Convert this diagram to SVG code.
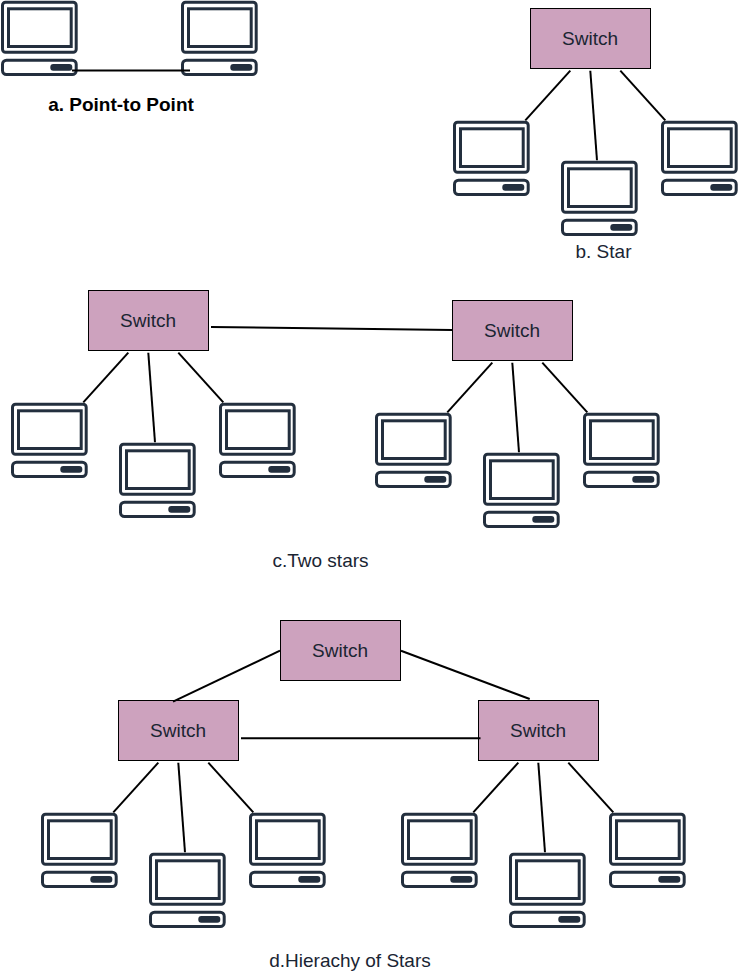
<svg xmlns="http://www.w3.org/2000/svg" width="739" height="976" viewBox="0 0 739 976">
<style>
text{font-family:"Liberation Sans",Arial,sans-serif;font-size:19px;fill:#1a2533;text-anchor:middle}
.sw{fill:#cda2be;stroke:#000;stroke-width:1}
.pc{fill:none;stroke:#232f3e;stroke-width:3}
.slot{fill:#232f3e}
.cn line{stroke:#000;stroke-width:2}
</style>
<defs>
<g id="computer">
<rect class="pc" x="1.5" y="2.2" width="73.7" height="50" rx="3"/>
<rect class="pc" x="7.5" y="8.8" width="62.700" height="37.700"/>
<rect class="pc" x="1.5" y="60.200" width="73.700" height="14.300" rx="4"/>
<rect class="slot" x="49.300" y="64" width="22" height="6.700" rx="3"/>
</g>
</defs>
<rect width="739" height="976" fill="#fff"/>
<g id="pc-a1"><use href="#computer" x="1" y="0"/></g>
<g id="pc-a2"><use href="#computer" x="181" y="0"/></g>
<g id="pc-b1"><use href="#computer" x="453" y="120"/></g>
<g id="pc-b2"><use href="#computer" x="561" y="160"/></g>
<g id="pc-b3"><use href="#computer" x="661" y="120"/></g>
<g id="pc-c1"><use href="#computer" x="11" y="402"/></g>
<g id="pc-c2"><use href="#computer" x="119" y="442"/></g>
<g id="pc-c3"><use href="#computer" x="219" y="402"/></g>
<g id="pc-c4"><use href="#computer" x="375" y="412"/></g>
<g id="pc-c5"><use href="#computer" x="483" y="452"/></g>
<g id="pc-c6"><use href="#computer" x="583" y="412"/></g>
<g id="pc-d1"><use href="#computer" x="41" y="812"/></g>
<g id="pc-d2"><use href="#computer" x="149" y="852"/></g>
<g id="pc-d3"><use href="#computer" x="249" y="812"/></g>
<g id="pc-d4"><use href="#computer" x="401" y="812"/></g>
<g id="pc-d5"><use href="#computer" x="509" y="852"/></g>
<g id="pc-d6"><use href="#computer" x="609" y="812"/></g>
<g id="sw-b"><rect class="sw" x="530.5" y="8.5" width="120" height="60"/><text x="590" y="45">Switch</text></g>
<g id="sw-c1"><rect class="sw" x="88.500" y="290.500" width="120" height="60"/><text x="148" y="327">Switch</text></g>
<g id="sw-c2"><rect class="sw" x="452.500" y="300.500" width="120" height="60"/><text x="512" y="337">Switch</text></g>
<g id="sw-d0"><rect class="sw" x="280.500" y="620.500" width="120" height="60"/><text x="340" y="657">Switch</text></g>
<g id="sw-d1"><rect class="sw" x="118.500" y="700.500" width="120" height="60"/><text x="178" y="737">Switch</text></g>
<g id="sw-d2"><rect class="sw" x="478.500" y="700.500" width="120" height="60"/><text x="538" y="737">Switch</text></g>
<g id="connectors" class="cn">
<line x1="72" y1="70.5" x2="190" y2="70.5"/>
<line x1="570.300" y1="70.700" x2="525.300" y2="120.300"/><line x1="590.300" y1="70.700" x2="597" y2="160.300"/><line x1="620.300" y1="70.700" x2="665.300" y2="120.300"/>
<line x1="128.300" y1="352.700" x2="83.300" y2="402.300"/><line x1="148.300" y1="352.700" x2="155" y2="442.300"/><line x1="178.300" y1="352.700" x2="223.300" y2="402.300"/>
<line x1="492.300" y1="362.700" x2="447.300" y2="412.300"/><line x1="512.300" y1="362.700" x2="519" y2="452.300"/><line x1="542.300" y1="362.700" x2="587.300" y2="412.300"/>
<line x1="211" y1="327" x2="452" y2="330"/>
<line x1="158.300" y1="762.700" x2="113.300" y2="812.300"/><line x1="178.300" y1="762.700" x2="185" y2="852.300"/><line x1="208.300" y1="762.700" x2="253.300" y2="812.300"/>
<line x1="518.300" y1="762.700" x2="473.300" y2="812.300"/><line x1="538.300" y1="762.700" x2="545" y2="852.300"/><line x1="568.300" y1="762.700" x2="613.300" y2="812.300"/>
<line x1="280" y1="650.700" x2="173" y2="701.700"/><line x1="401" y1="650.700" x2="529.700" y2="699"/><line x1="241" y1="738.300" x2="480.500" y2="738.300"/>
</g>
<text x="121" y="111" font-weight="bold" style="fill:#000">a. Point-to Point</text>
<text x="603.500" y="258">b. Star</text>
<text x="320.500" y="567">c.Two stars</text>
<text x="350" y="967">d.Hierachy of Stars</text>
</svg>
